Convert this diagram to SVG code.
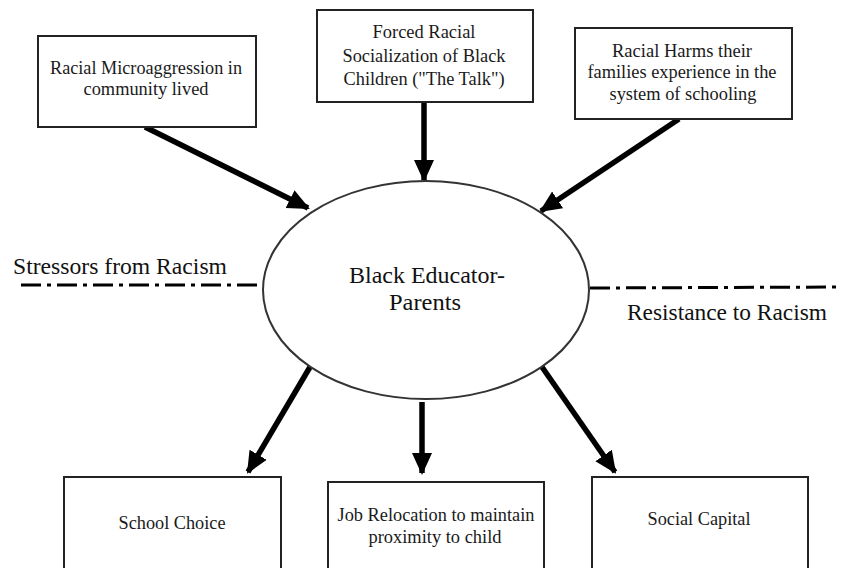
<svg xmlns="http://www.w3.org/2000/svg" width="842" height="568" viewBox="0 0 842 568">
<style>
.box{fill:#fff;stroke:#222;stroke-width:2}
.t{font-family:"Liberation Serif","Times New Roman",serif;font-size:18px;fill:#1a1a1a;text-anchor:middle}
.big{font-family:"Liberation Serif","Times New Roman",serif;font-size:23px;fill:#111}
.arr{stroke:#000;stroke-width:5.5;fill:none;marker-end:url(#ah)}
.dd{stroke:#000;stroke-width:3;fill:none;stroke-dasharray:20 6 4 6}
</style>
<defs>
<marker id="ah" markerUnits="userSpaceOnUse" markerWidth="22" markerHeight="22" viewBox="0 0 22 22" refX="20" refY="11" orient="auto">
<path d="M0,1 L22,11 L0,21 Z" fill="#000"/>
</marker>
</defs>
<rect width="842" height="568" fill="#fff"/>
<g id="connectors">
<line class="arr" x1="145" y1="127" x2="308" y2="208"/>
<line class="arr" x1="424" y1="102" x2="424" y2="180"/>
<line class="arr" x1="679" y1="119" x2="541" y2="211"/>
<line class="arr" x1="310" y1="367" x2="248" y2="472"/>
<line class="arr" x1="422" y1="402" x2="422" y2="473"/>
<line class="arr" x1="542" y1="367" x2="615" y2="472"/>
<line class="dd" x1="21" y1="285" x2="263" y2="285"/>
<line class="dd" x1="590" y1="288" x2="842" y2="287"/>
</g>
<g id="center">
<ellipse cx="426" cy="290" rx="163" ry="109" fill="#fff" stroke="#333" stroke-width="2"/>
<text class="big" x="427" y="283" text-anchor="middle" textLength="156" lengthAdjust="spacingAndGlyphs">Black Educator-</text>
<text class="big" x="425" y="310" text-anchor="middle" textLength="72" lengthAdjust="spacingAndGlyphs">Parents</text>
</g>
<g id="label-stressors"><text class="big" x="13" y="274" textLength="214" lengthAdjust="spacingAndGlyphs">Stressors from Racism</text></g>
<g id="label-resistance"><text class="big" x="627" y="320" textLength="200" lengthAdjust="spacingAndGlyphs">Resistance to Racism</text></g>
<g id="n1">
<rect class="box" x="38" y="36" width="218" height="91"/>
<text class="t" x="146" y="74" textLength="192" lengthAdjust="spacingAndGlyphs">Racial Microaggression in</text>
<text class="t" x="146" y="95" textLength="125" lengthAdjust="spacingAndGlyphs">community lived</text>
</g>
<g id="n2">
<rect class="box" x="317" y="10" width="216" height="92"/>
<text class="t" x="424" y="38" textLength="103" lengthAdjust="spacingAndGlyphs">Forced Racial</text>
<text class="t" x="424" y="62" textLength="163" lengthAdjust="spacingAndGlyphs">Socialization of Black</text>
<text class="t" x="424" y="85" textLength="161" lengthAdjust="spacingAndGlyphs">Children ("The Talk")</text>
</g>
<g id="n3">
<rect class="box" x="575" y="28" width="217" height="91"/>
<text class="t" x="682" y="57" textLength="140" lengthAdjust="spacingAndGlyphs">Racial Harms their</text>
<text class="t" x="682" y="78" textLength="189" lengthAdjust="spacingAndGlyphs">families experience in the</text>
<text class="t" x="683" y="100" textLength="147" lengthAdjust="spacingAndGlyphs">system of schooling</text>
</g>
<g id="n4">
<rect class="box" x="64" y="477" width="217" height="100"/>
<text class="t" x="172" y="529" textLength="107" lengthAdjust="spacingAndGlyphs">School Choice</text>
</g>
<g id="n5">
<rect class="box" x="328" y="482" width="216" height="100"/>
<text class="t" x="436" y="521" textLength="197" lengthAdjust="spacingAndGlyphs">Job Relocation to maintain</text>
<text class="t" x="435" y="543" textLength="133" lengthAdjust="spacingAndGlyphs">proximity to child</text>
</g>
<g id="n6">
<rect class="box" x="592" y="477" width="216" height="100"/>
<text class="t" x="699" y="525" textLength="103" lengthAdjust="spacingAndGlyphs">Social Capital</text>
</g>
</svg>
